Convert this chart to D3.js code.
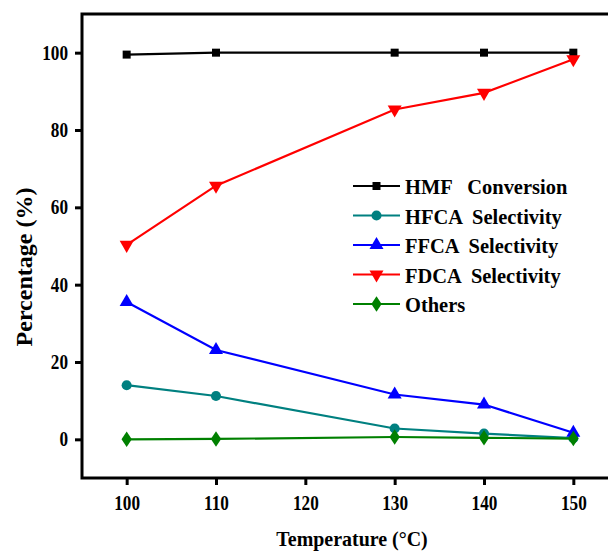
<!DOCTYPE html>
<html>
<head>
<meta charset="utf-8">
<script src="https://cdn.jsdelivr.net/npm/d3@7"></script>
<style>
  html, body { margin: 0; padding: 0; background: #fff; }
  svg { display: block; }
  text { font-family: "Liberation Serif", "Times New Roman", serif; font-weight: bold; fill: #000; }
</style>
</head>
<body>
<svg id="chart" width="608" height="552"></svg>
<script>
// Reaction temperature (°C)
const temperatures = [100, 110, 130, 140, 150];

// Percentages for each series
const hmfConversion   = [99.5, 100, 100, 100, 100];
const hfcaSelectivity = [14.0, 11.2, 2.8, 1.5, 0.3];
const ffcaSelectivity = [35.5, 23.1, 11.6, 9.0, 1.7];
const fdcaSelectivity = [50.3, 65.6, 85.3, 89.6, 98.3];
const othersValues    = [0.0, 0.1, 0.6, 0.4, 0.2];

const seriesNames  = ["HMF   Conversion", "HFCA  Selectivity", "FFCA  Selectivity", "FDCA  Selectivity", "Others"];
const seriesColors = ["#000000", "#008080", "#0000FF", "#FF0000", "#008000"];
const seriesShapes = ["square", "circle", "triangle", "triangleDown", "diamond"];

const xTicks = [100, 110, 120, 130, 140, 150];
const yTicks = [0, 20, 40, 60, 80, 100];

const series = [hmfConversion, hfcaSelectivity, ffcaSelectivity, fdcaSelectivity, othersValues].map((vals, i) => ({
  name: seriesNames[i], color: seriesColors[i], shape: seriesShapes[i],
  points: vals.map((v, j) => ({ t: temperatures[j], v }))
}));

const svg = d3.select("#chart");
const frame = { left: 82, top: 14, right: 618, bottom: 478 };

const x = d3.scaleLinear().domain([95, 155]).range([frame.left, frame.right]);
const y = d3.scaleLinear().domain([-10, 110]).range([frame.bottom, frame.top]);

const squish = 0.86;

// Marker symbols
const symbolFor = {
  square: d3.symbol().type(d3.symbolSquare).size(64),
  circle: d3.symbol().type(d3.symbolCircle).size(80),
  triangle: d3.symbol().type(d3.symbolTriangle).size(85),
  triangleDown: d3.symbol().type(d3.symbolTriangle).size(85),
  diamond: d3.symbol().type(d3.symbolDiamond).size(70)
};
function markerTransform(shape, px, py) {
  if (shape === "triangleDown") return `translate(${px},${py}) rotate(180)`;
  if (shape === "diamond") return `translate(${px},${py}) scale(1.15,1)`;
  return `translate(${px},${py})`;
}

// Axes
const yAxis = d3.axisLeft(y).tickValues(yTicks).tickSize(7).tickPadding(5).tickFormat(d3.format("d"));
const xAxis = d3.axisBottom(x).tickValues(xTicks).tickSize(7).tickPadding(8).tickFormat(d3.format("d"));

const gy = svg.append("g").attr("transform", `translate(${frame.left},0)`).call(yAxis);
const gx = svg.append("g").attr("transform", `translate(0,${frame.bottom})`).call(xAxis);

[gy, gx].forEach(g => {
  g.attr("font-family", null);
  g.select(".domain").remove();
  g.selectAll(".tick line").attr("stroke", "#000").attr("stroke-width", 3);
  g.selectAll(".tick text").attr("font-size", 20).attr("fill", "#000");
});
gy.selectAll(".tick text").each(function() {
  d3.select(this).attr("x", null).attr("dy", null)
    .attr("transform", `translate(-14,6.5) scale(${squish},1)`);
});
gx.selectAll(".tick text").each(function() {
  d3.select(this).attr("y", null).attr("dy", null)
    .attr("transform", `translate(0,32) scale(${squish},1)`);
});

// Plot frame
svg.append("rect")
  .attr("x", frame.left).attr("y", frame.top)
  .attr("width", frame.right - frame.left).attr("height", frame.bottom - frame.top)
  .attr("fill", "none").attr("stroke", "#000").attr("stroke-width", 3);

// Series lines and markers
const line = d3.line().x(d => x(d.t)).y(d => y(d.v));
series.forEach(s => {
  const g = svg.append("g");
  g.append("path").attr("d", line(s.points))
    .attr("fill", "none").attr("stroke", s.color).attr("stroke-width", 2.2);
  g.selectAll("path.m").data(s.points).join("path").attr("class", "m")
    .attr("d", symbolFor[s.shape]())
    .attr("transform", d => markerTransform(s.shape, x(d.t), y(d.v)))
    .attr("fill", s.color);
});

// Legend
const legend = svg.append("g").attr("transform", "translate(353,186)");
series.forEach((s, i) => {
  const row = legend.append("g").attr("transform", `translate(0,${i * 29.5})`);
  row.append("line").attr("x1", 0).attr("x2", 47).attr("y1", 0).attr("y2", 0)
    .attr("stroke", s.color).attr("stroke-width", 2.2);
  row.append("path").attr("d", symbolFor[s.shape]())
    .attr("transform", markerTransform(s.shape, 23.5, 0)).attr("fill", s.color);
  row.append("text").attr("font-size", 22).attr("xml:space", "preserve")
    .style("white-space", "pre")
    .attr("transform", `translate(52,8) scale(0.93,1)`)
    .text(s.name);
});

// Axis titles
svg.append("text").attr("font-size", 21).attr("text-anchor", "middle")
  .attr("transform", `translate(352,546) scale(0.95,1)`)
  .text("Temperature (°C)");
svg.append("text").attr("font-size", 24).attr("text-anchor", "middle")
  .attr("transform", `translate(32,267) rotate(-90)`)
  .text("Percentage (%)");
</script>
</body>
</html>
